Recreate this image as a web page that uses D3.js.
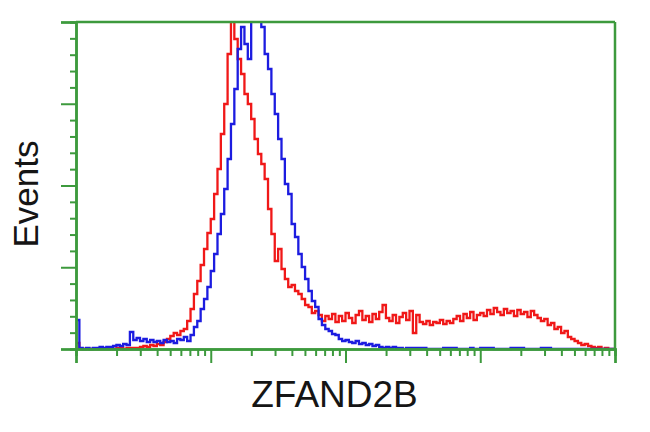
<!DOCTYPE html>
<html>
<head>
<meta charset="utf-8">
<script src="https://cdn.jsdelivr.net/npm/d3@7"></script>
<style>
html,body{margin:0;padding:0;background:#fff;}
svg{display:block;}
</style>
</head>
<body>
<svg id="chart" width="650" height="432"></svg>
<script>
// ---- data ----
const xLabel = "ZFAND2B";
const yLabel = "Events";
const binsPerDecade = 40;
const xDomain = [1, 10000];
const yMax = 327;
const xMajorTicks = [1, 10, 100, 1000, 10000];
const xMinorMultipliers = [2, 3, 4, 5, 6, 7, 8, 9];
const yTickCount = 20; // minor divisions
const yMajorEvery = 5;

// red series (events per channel bin)
const redValues = [
  6,0,0,0,0,0,0,0,0,0, 1,0,1,1,0,1,1,1,1,2,
  3,2,4,3,5,4,7,10,13,16, 14,18,20,28,40,55,68,84,100,116,
  130,155,180,215,245,295,360,310,290,275, 255,245,230,210,195,185,170,140,115,88,
  100,80,70,62,64,58,55,50,44,42, 36,38,34,28,33,30,35,27,33,28,
  36,31,26,34,38,29,33,27,35,30, 37,44,31,28,34,26,32,36,29,38,
  16,34,27,25,28,24,27,26,29,25, 28,26,30,33,28,35,31,37,29,34,
  36,33,39,35,41,37,34,40,36,38, 33,39,35,37,32,38,34,31,28,30,
  24,26,20,22,16,18,12,10,8,6, 4,5,3,2,1,2,0,1,0,0
];
// blue series
const blueValues = [
  29,1,0,1,0,1,1,2,1,2, 2,3,4,3,5,4,17,9,11,8,
  10,7,9,7,8,6,9,7,8,6, 10,9,12,8,14,22,28,40,50,62,
  78,95,115,135,160,190,225,260,300,322, 305,290,335,340,335,322,295,280,255,235,
  210,190,165,155,125,112,95,82,70,58, 48,42,30,24,20,18,15,14,10,8,
  9,7,6,8,5,6,4,5,3,4, 2,1,2,1,2,1,1,0,1,1,
  1,1,1,1,0,0,0,0,0,1, 1,1,1,0,0,0,0,1,0,0,
  1,1,1,1,0,0,0,0,0,1, 1,1,1,0,0,0,0,0,1,1,
  1,0,0,0,0,0,0,0,0,0, 0,0,0,0,0,0,0,0,0,0
];

// ---- layout ----
const svg = d3.select("#chart");
const mLeft = 76, mRight = 615, mTop = 22, mBottom = 349;
const green = "#3d9a3d";

const x = d3.scaleLog().domain(xDomain).range([mLeft, mRight]);
const y = d3.scaleLinear().domain([0, yMax]).range([mBottom, mTop]);

svg.append("defs").append("clipPath").attr("id", "clip")
  .append("rect").attr("x", mLeft).attr("y", mTop).attr("width", mRight - mLeft).attr("height", mBottom - mTop + 2);

function stepPoints(vals) {
  const pts = vals.map((v, i) => [Math.pow(10, i / binsPerDecade), v]);
  pts.push([Math.pow(10, vals.length / binsPerDecade), vals[vals.length - 1]]);
  return pts;
}
const line = d3.line().x(d => x(d[0])).y(d => y(d[1])).curve(d3.curveStepAfter);

const g = svg.append("g").attr("clip-path", "url(#clip)");
g.append("path").datum(stepPoints(redValues))
  .attr("d", line).attr("fill", "none").attr("stroke", "#f01818").attr("stroke-width", 2.3);
g.append("path").datum(stepPoints(blueValues))
  .attr("d", line).attr("fill", "none").attr("stroke", "#1c1ce0").attr("stroke-width", 2.3);

// frame
const frame = svg.append("g").attr("stroke", green).attr("fill", "none").attr("stroke-width", 2.5);
frame.append("line").attr("x1", mLeft).attr("x2", mRight).attr("y1", mTop).attr("y2", mTop);
frame.append("line").attr("x1", mRight).attr("x2", mRight).attr("y1", mTop).attr("y2", mBottom);

// x axis
const xMinor = [];
xMajorTicks.slice(0, -1).forEach(d => xMinorMultipliers.forEach(m => xMinor.push(d * m)));
const xAxisMinor = d3.axisBottom(x).tickValues(xMinor).tickSize(7).tickFormat("");
const xAxisMajor = d3.axisBottom(x).tickValues(xMajorTicks).tickSize(14).tickFormat("");
const gxm = svg.append("g").attr("transform", `translate(0,${mBottom})`).call(xAxisMinor);
const gxM = svg.append("g").attr("transform", `translate(0,${mBottom})`).call(xAxisMajor);

// y axis
const yTicksAll = d3.range(0, yTickCount + 1).map(i => i * yMax / yTickCount);
const yMinor = yTicksAll.filter((d, i) => i % yMajorEvery !== 0);
const yMajor = yTicksAll.filter((d, i) => i % yMajorEvery === 0);
const gym = svg.append("g").attr("transform", `translate(${mLeft},0)`)
  .call(d3.axisLeft(y).tickValues(yMinor).tickSize(6).tickFormat(""));
const gyM = svg.append("g").attr("transform", `translate(${mLeft},0)`)
  .call(d3.axisLeft(y).tickValues(yMajor).tickSize(15).tickFormat(""));

[gxm, gxM, gym, gyM].forEach(a => {
  a.selectAll(".domain").attr("stroke", green).attr("stroke-width", 2.5);
  a.selectAll(".tick line").attr("stroke", green).attr("stroke-width", 2);
});

// labels
svg.append("text")
  .attr("x", (mLeft + mRight) / 2 - 11).attr("y", 407)
  .attr("text-anchor", "middle")
  .attr("font-family", "Liberation Sans, Arial, sans-serif")
  .attr("font-size", 37).attr("fill", "#151515")
  .text(xLabel);
svg.append("text")
  .attr("transform", "translate(38,194) rotate(-90)")
  .attr("text-anchor", "middle")
  .attr("font-family", "Liberation Sans, Arial, sans-serif")
  .attr("font-size", 35).attr("fill", "#151515")
  .text(yLabel);
</script>
</body>
</html>
